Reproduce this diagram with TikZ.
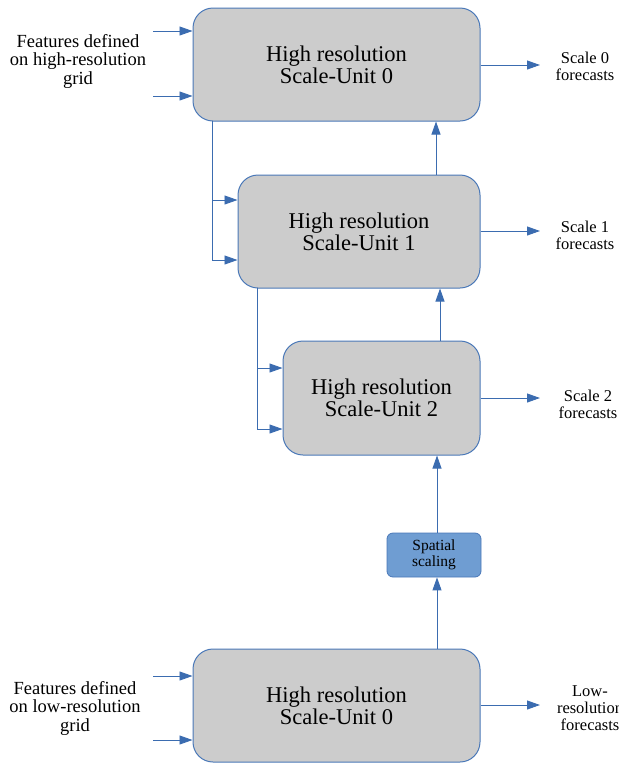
\documentclass[tikz,border=0pt]{standalone}
\usepackage{fontspec}
\setmainfont{Liberation Serif}
\usetikzlibrary{arrows.meta}
\definecolor{edge}{HTML}{3B6CB0}
\definecolor{boxfill}{HTML}{CCCCCC}
\definecolor{boxline}{HTML}{4A78B8}
\definecolor{scalefill}{HTML}{6F9DD2}
\begin{document}
\begin{tikzpicture}[x=1pt,y=-1pt,
  unit/.style={draw=boxline,line width=1pt,fill=boxfill,rounded corners=20pt,inner sep=0pt,align=center,font=\fontsize{22.5}{22}\selectfont},
  scalebox/.style={draw=boxline,line width=0.8pt,fill=scalefill,rounded corners=6pt,inner sep=0pt,align=center,font=\fontsize{15.5}{16}\selectfont},
  lbl/.style={align=center,inner sep=0pt,font=\fontsize{18.5}{18.5}\selectfont},
  outlbl/.style={align=center,inner sep=0pt,font=\fontsize{16.5}{17}\selectfont},
  conn/.style={draw=edge,line width=0.9pt},
  arr/.style={conn,-{Triangle[length=13pt,width=9pt]}}]
\useasboundingbox (0,0) rectangle (619,764);
% boxes
\node[unit,minimum width=287pt,minimum height=113pt] (u0) at (336.5,64.5) {High resolution\\Scale-Unit 0};
\node[unit,minimum width=242pt,minimum height=113pt] (u1) at (359,231.5) {High resolution\\Scale-Unit 1};
\node[unit,minimum width=197pt,minimum height=114pt] (u2) at (381.5,398) {High resolution\\Scale-Unit 2};
\node[scalebox,minimum width=94pt,minimum height=44pt] (sp) at (434,555) {Spatial\\scaling};
\node[unit,minimum width=287pt,minimum height=113pt] (ub) at (336.5,705.5) {High resolution\\Scale-Unit 0};
% labels
\node[lbl] (fh) at (78,61) {Features defined\\on high-resolution\\grid};
\node[lbl] (fl) at (75,708) {Features defined\\on low-resolution\\grid};
\node[outlbl] (o0) at (585,66.5) {Scale 0\\forecasts};
\node[outlbl] (o1) at (585,235) {Scale 1\\forecasts};
\node[outlbl] (o2) at (588,404.5) {Scale 2\\forecasts};
\node[outlbl] (ob) at (590,708.5) {Low-\\resolution\\forecasts};
% input arrows
\coordinate (ih1) at (153,31);
\coordinate (ih2) at (153,96);
\coordinate (il1) at (153,676);
\coordinate (il2) at (153,740);
\draw[arr] (ih1) -- (u0.west |- ih1);
\draw[arr] (ih2) -- (u0.west |- ih2);
\draw[arr] (il1) -- (ub.west |- il1);
\draw[arr] (il2) -- (ub.west |- il2);
% output arrows
\coordinate (e0) at (540,65);
\coordinate (e1) at (540,231);
\coordinate (e2) at (540,398);
\coordinate (eb) at (540,705);
\draw[arr] (u0.east |- e0) -- (e0);
\draw[arr] (u1.east |- e1) -- (e1);
\draw[arr] (u2.east |- e2) -- (e2);
\draw[arr] (ub.east |- eb) -- (eb);
% branches from unit 0 to unit 1
\coordinate (b0) at (212,121);
\coordinate (b0a) at (212,200);
\coordinate (b0b) at (212,260);
\draw[conn] (b0) -- (b0b);
\draw[arr] (b0a) -- (u1.west |- b0a);
\draw[arr] (b0b) -- (u1.west |- b0b);
% branches from unit 1 to unit 2
\coordinate (b1) at (257,288);
\coordinate (b1a) at (257,368);
\coordinate (b1b) at (257,429);
\draw[conn] (b1) -- (b1b);
\draw[arr] (b1a) -- (u2.west |- b1a);
\draw[arr] (b1b) -- (u2.west |- b1b);
% upward arrows
\coordinate (v1) at (436,0);
\coordinate (v2) at (440,0);
\coordinate (v3) at (437,0);
\draw[arr] (u1.north -| v1) -- (u0.south -| v1);
\draw[arr] (u2.north -| v2) -- (u1.south -| v2);
\draw[arr] (sp.north -| v3) -- (u2.south -| v3);
\draw[arr] (ub.north -| v3) -- (sp.south -| v3);
\end{tikzpicture}
\end{document}
